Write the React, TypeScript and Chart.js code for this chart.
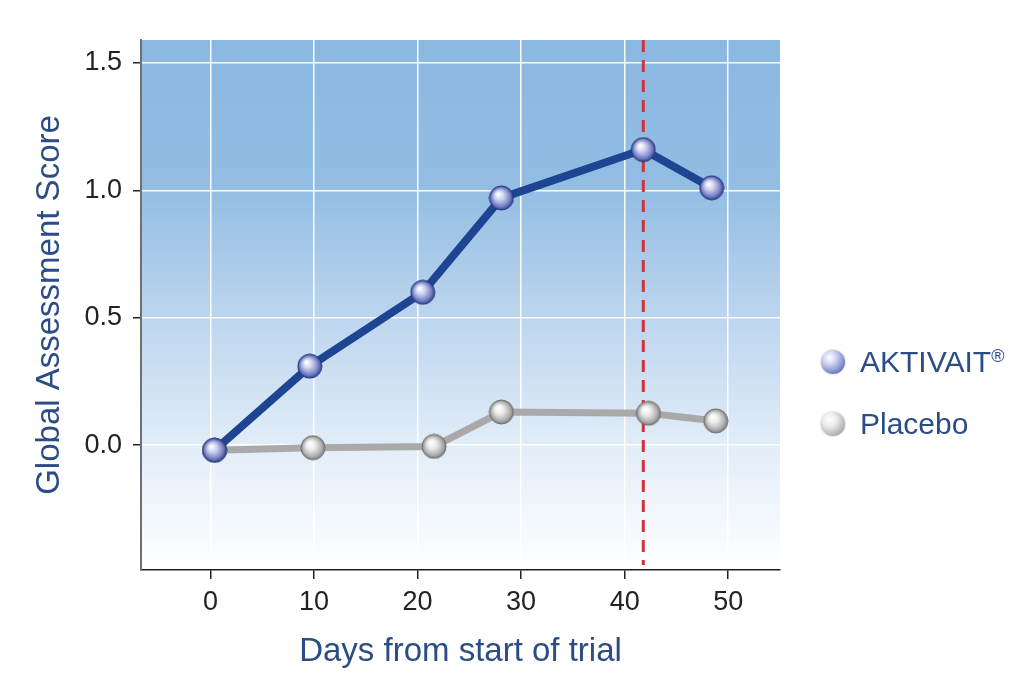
import React, { useEffect, useRef } from 'react';
import { Chart, registerables } from 'chart.js';

Chart.register(...registerables);

// ---- data ----
const seriesNames = ['AKTIVAIT', 'Placebo'];
const aktivaitDays = [0.4, 9.6, 20.5, 28.1, 41.8, 48.4];
const aktivaitScores = [-0.02, 0.31, 0.6, 0.97, 1.16, 1.01];
const placeboDays = [0.4, 9.9, 21.6, 28.1, 42.3, 48.8];
const placeboScores = [-0.02, -0.01, -0.005, 0.13, 0.125, 0.095];
const xTickValues = [0, 10, 20, 30, 40, 50];
const yTickValues = [0, 0.5, 1.0, 1.5];
const markerDay = 41.8;
const xTitle = 'Days from start of trial';
const yTitle = 'Global Assessment Score';

const FONT = "'Liberation Sans', Arial, Helvetica, sans-serif";
const TEXT_BLUE = '#2b4c84';

function makeSphere(r: number, stops: string[], outline: string) {
  const c = document.createElement('canvas');
  const s = Math.ceil(r * 2 + 2);
  c.width = s;
  c.height = s;
  const ctx = c.getContext('2d')!;
  const cx = s / 2;
  const cy = s / 2;
  const g = ctx.createRadialGradient(cx - r * 0.28, cy - r * 0.34, r * 0.05, cx, cy, r);
  g.addColorStop(0, stops[0]);
  g.addColorStop(0.35, stops[1]);
  g.addColorStop(0.78, stops[2]);
  g.addColorStop(1, stops[3]);
  ctx.beginPath();
  ctx.arc(cx, cy, r, 0, Math.PI * 2);
  ctx.fillStyle = g;
  ctx.fill();
  ctx.lineWidth = 1;
  ctx.strokeStyle = outline;
  ctx.stroke();
  return c;
}

const BLUE_STOPS = ['#ffffff', '#cfd3f0', '#7480c4', '#34428f'];
const GRAY_STOPS = ['#ffffff', '#ececec', '#b0b0b0', '#7c7c7c'];

const backgroundPlugin = {
  id: 'gradientBackground',
  beforeDraw(chart: any) {
    const { ctx, chartArea } = chart;
    if (!chartArea) return;
    const { left, right, top, bottom } = chartArea;
    const g = ctx.createLinearGradient(0, top, 0, bottom);
    g.addColorStop(0, '#8bb8e1');
    g.addColorStop(0.28, '#93bde3');
    g.addColorStop(0.52, '#bcd5ee');
    g.addColorStop(0.77, '#e2edf8');
    g.addColorStop(1, '#ffffff');
    ctx.save();
    ctx.fillStyle = g;
    ctx.fillRect(left, top, right - left, bottom - top);
    ctx.restore();
  },
};

const markerPlugin = {
  id: 'markerLine',
  beforeDatasetsDraw(chart: any) {
    const { ctx, chartArea, scales } = chart;
    const x = scales.x.getPixelForValue(markerDay);
    ctx.save();
    ctx.strokeStyle = '#d0313b';
    ctx.lineWidth = 3;
    ctx.setLineDash([12, 8]);
    ctx.beginPath();
    ctx.moveTo(x, chartArea.top);
    ctx.lineTo(x, chartArea.bottom - 5);
    ctx.stroke();
    ctx.restore();
  },
};

function Sphere({ stops }: { stops: string[] }) {
  return (
    <span
      style={{
        display: 'inline-block',
        width: 24,
        height: 24,
        borderRadius: '50%',
        background: `radial-gradient(circle at 36% 32%, ${stops[0]} 0%, ${stops[1]} 30%, ${stops[2]} 72%, ${stops[3]} 100%)`,
        boxShadow: '0 0 2px rgba(0,0,0,0.35)',
        flex: '0 0 auto',
      }}
    />
  );
}

export default function App() {
  const ref = useRef<HTMLCanvasElement | null>(null);

  useEffect(() => {
    document.body.style.margin = '0';
    const canvas = ref.current;
    if (!canvas) return;
    Chart.defaults.font.family = FONT;

    const blueSphere = makeSphere(12, BLUE_STOPS, '#2a3578');
    const graySphere = makeSphere(12, GRAY_STOPS, '#707070');

    const chart = new Chart(canvas, {
      type: 'scatter',
      data: {
        datasets: [
          {
            label: seriesNames[0],
            data: aktivaitDays.map((d, i) => ({ x: d, y: aktivaitScores[i] })),
            showLine: true,
            borderColor: '#1d4591',
            borderWidth: 8,
            pointStyle: blueSphere as any,
            pointRadius: 12,
            pointHoverRadius: 12,
          },
          {
            label: seriesNames[1],
            data: placeboDays.map((d, i) => ({ x: d, y: placeboScores[i] })),
            showLine: true,
            borderColor: '#a9a9a9',
            borderWidth: 7,
            pointStyle: graySphere as any,
            pointRadius: 12,
            pointHoverRadius: 12,
          },
        ],
      },
      options: {
        responsive: false,
        animation: false,
        events: [],
        layout: { padding: { top: 40, right: 249, left: 0, bottom: 0 } },
        plugins: {
          legend: { display: false },
          tooltip: { enabled: false },
        },
        scales: {
          x: {
            type: 'linear',
            min: -6.7,
            max: 55,
            afterBuildTicks: (scale: any) => {
              scale.ticks = xTickValues.map((v) => ({ value: v }));
            },
            afterFit: (scale: any) => {
              scale.height = 120;
            },
            grid: {
              color: 'rgba(255,255,255,0.95)',
              lineWidth: 1.5,
              tickColor: '#222222',
              tickLength: 9,
              tickWidth: 1.5,
            },
            border: { display: true, color: '#1e1e1e', width: 1.5 },
            ticks: {
              color: '#222222',
              font: { size: 27, family: FONT },
              padding: 7,
              callback: (v: any) => String(v),
            },
            title: {
              display: true,
              text: xTitle,
              color: TEXT_BLUE,
              font: { size: 33, family: FONT },
              padding: { top: 0, bottom: 18 },
            },
          },
          y: {
            type: 'linear',
            min: -0.49,
            max: 1.59,
            afterBuildTicks: (scale: any) => {
              scale.ticks = yTickValues.map((v) => ({ value: v }));
            },
            afterFit: (scale: any) => {
              scale.width = 141;
            },
            grid: {
              color: 'rgba(255,255,255,0.95)',
              lineWidth: 1.5,
              tickColor: '#222222',
              tickLength: 8,
              tickWidth: 1.5,
            },
            border: { display: true, color: '#707070', width: 2 },
            ticks: {
              color: '#222222',
              font: { size: 27, family: FONT },
              padding: 11,
              callback: (v: any) => Number(v).toFixed(1),
            },
            title: {
              display: true,
              text: yTitle,
              color: TEXT_BLUE,
              font: { size: 33, family: FONT },
              padding: { top: 30, bottom: 0 },
            },
          },
        },
      },
      plugins: [backgroundPlugin, markerPlugin],
    });

    return () => {
      chart.destroy();
    };
  }, []);

  const rowStyle: React.CSSProperties = {
    position: 'absolute',
    left: 821,
    height: 26,
    display: 'flex',
    alignItems: 'center',
    fontFamily: FONT,
    fontSize: 30,
    lineHeight: 1,
    color: TEXT_BLUE,
    whiteSpace: 'nowrap',
  };

  return (
    <div style={{ position: 'relative', width: 1029, height: 690, background: '#ffffff' }}>
      <canvas ref={ref} width={1029} height={690} style={{ display: 'block' }} />
      <div style={{ ...rowStyle, top: 349 }}>
        <Sphere stops={BLUE_STOPS} />
        <span style={{ marginLeft: 15 }}>
          {seriesNames[0]}
          <span style={{ fontSize: 18, position: 'relative', top: -10 }}>®</span>
        </span>
      </div>
      <div style={{ ...rowStyle, top: 411 }}>
        <Sphere stops={GRAY_STOPS} />
        <span style={{ marginLeft: 15 }}>{seriesNames[1]}</span>
      </div>
    </div>
  );
}
